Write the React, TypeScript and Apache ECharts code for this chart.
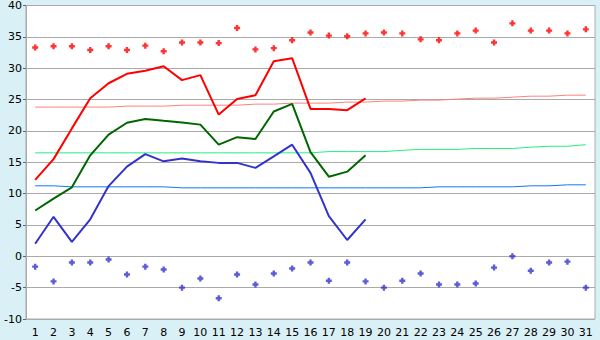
import React, { useEffect, useRef } from "react";
import * as echarts from "echarts";

const days = Array.from({ length: 31 }, (_, i) => String(i + 1));

const maxLine = [12.2, 15.5, 20.4, 25.2, 27.6, 29.1, 29.6, 30.3, 28.1, 28.9, 22.6, 25.1, 25.7, 31.1, 31.6, 23.5, 23.5, 23.3, 25.2];
const meanLine = [7.3, 9.2, 11.0, 16.1, 19.4, 21.3, 21.9, 21.6, 21.35, 21.0, 17.8, 19.0, 18.7, 23.1, 24.3, 16.6, 12.7, 13.5, 16.1];
const minLine = [2.0, 6.3, 2.3, 5.9, 11.2, 14.3, 16.3, 15.15, 15.6, 15.15, 14.9, 14.9, 14.1, 15.95, 17.8, 13.3, 6.4, 2.6, 5.9];

const maxPoints = [33.3, 33.5, 33.5, 32.9, 33.5, 32.9, 33.6, 32.7, 34.1, 34.1, 34.0, 36.4, 33.0, 33.2, 34.45, 35.7, 35.2, 35.1, 35.55, 35.7, 35.55, 34.6, 34.45, 35.55, 36.0, 34.1, 37.15, 36.0, 36.0, 35.55, 36.2];
const minPoints = [-1.65, -4.0, -1.0, -1.0, -0.5, -2.9, -1.65, -2.1, -5.0, -3.55, -6.7, -2.9, -4.5, -2.75, -1.95, -1.0, -3.9, -1.0, -4.0, -5.0, -3.9, -2.75, -4.5, -4.5, -4.35, -1.8, 0.0, -2.3, -1.0, -0.85, -5.0];

const normalMax = [23.8, 23.8, 23.8, 23.8, 23.8, 23.95, 23.95, 23.95, 24.1, 24.1, 24.1, 24.1, 24.27, 24.27, 24.43, 24.43, 24.43, 24.59, 24.59, 24.75, 24.75, 24.91, 24.91, 25.07, 25.22, 25.22, 25.38, 25.54, 25.54, 25.7, 25.7];
const normalMean = [16.5, 16.5, 16.5, 16.5, 16.5, 16.5, 16.5, 16.5, 16.5, 16.5, 16.5, 16.5, 16.5, 16.5, 16.5, 16.5, 16.7, 16.7, 16.7, 16.7, 16.9, 17.05, 17.05, 17.05, 17.2, 17.2, 17.2, 17.4, 17.55, 17.55, 17.8];
const normalMin = [11.24, 11.24, 11.08, 11.08, 11.08, 11.08, 11.08, 11.08, 10.92, 10.92, 10.92, 10.92, 10.92, 10.92, 10.92, 10.92, 10.92, 10.92, 10.92, 10.92, 10.92, 10.92, 11.08, 11.08, 11.08, 11.08, 11.08, 11.24, 11.24, 11.4, 11.4];

const yMin = -10;
const yMax = 40;
const yStep = 5;

const plus = "path://M1.5,0H3.5V1.5H5V3.5H3.5V5H1.5V3.5H0V1.5H1.5Z";
const font = "DejaVu Sans";

export default function App() {
  const ref = useRef<HTMLDivElement>(null);
  useEffect(() => {
    if (!ref.current) return;
    const chart = echarts.init(ref.current, undefined, { renderer: "svg" });
    const thin = (name: string, data: number[], color: string) => ({
      name,
      type: "line",
      data,
      showSymbol: false,
      symbol: "none",
      lineStyle: { color, width: 1 },
      z: 2,
    });
    const thick = (name: string, data: number[], color: string) => ({
      name,
      type: "line",
      data,
      showSymbol: false,
      symbol: "none",
      lineStyle: { color, width: 2 },
      z: 3,
    });
    const pts = (name: string, data: number[], color: string) => ({
      name,
      type: "scatter",
      data,
      symbol: plus,
      symbolSize: 6,
      itemStyle: { color },
      z: 4,
    });
    chart.setOption({
      animation: false,
      backgroundColor: "#daf0f7",
      grid: {
        left: 26,
        right: 5,
        top: 5,
        bottom: 21,
        show: true,
        backgroundColor: "#ffffff",
        borderColor: "#aaaaaa",
        borderWidth: 1,
      },
      xAxis: {
        type: "category",
        data: days,
        boundaryGap: true,
        axisLine: { lineStyle: { color: "#aaaaaa" } },
        axisTick: { alignWithLabel: true, length: 5, lineStyle: { color: "#666666" } },
        axisLabel: { color: "#000000", fontFamily: font, fontSize: 11, margin: 8, interval: 0 },
        splitLine: { show: false },
      },
      yAxis: {
        type: "value",
        min: yMin,
        max: yMax,
        interval: yStep,
        axisLine: { show: true, lineStyle: { color: "#aaaaaa" } },
        axisTick: { show: true, length: 3, lineStyle: { color: "#666666" } },
        axisLabel: { color: "#000000", fontFamily: font, fontSize: 11, margin: 4 },
        splitLine: { lineStyle: { color: "#aaaaaa", width: 1 } },
      },
      series: [
        thin("normalMax", normalMax, "#ff8080"),
        thin("normalMean", normalMean, "#22f080"),
        thin("normalMin", normalMin, "#1078f0"),
        thick("max", maxLine, "#ff0000"),
        thick("mean", meanLine, "#006600"),
        thick("min", minLine, "#3333cc"),
        pts("maxPts", maxPoints, "#ff0000"),
        pts("minPts", minPoints, "#3333cc"),
      ],
    });
    return () => chart.dispose();
  }, []);
  return (
    <div
      ref={ref}
      style={{ position: "fixed", left: 0, top: 0, width: 600, height: 340 }}
    />
  );
}
